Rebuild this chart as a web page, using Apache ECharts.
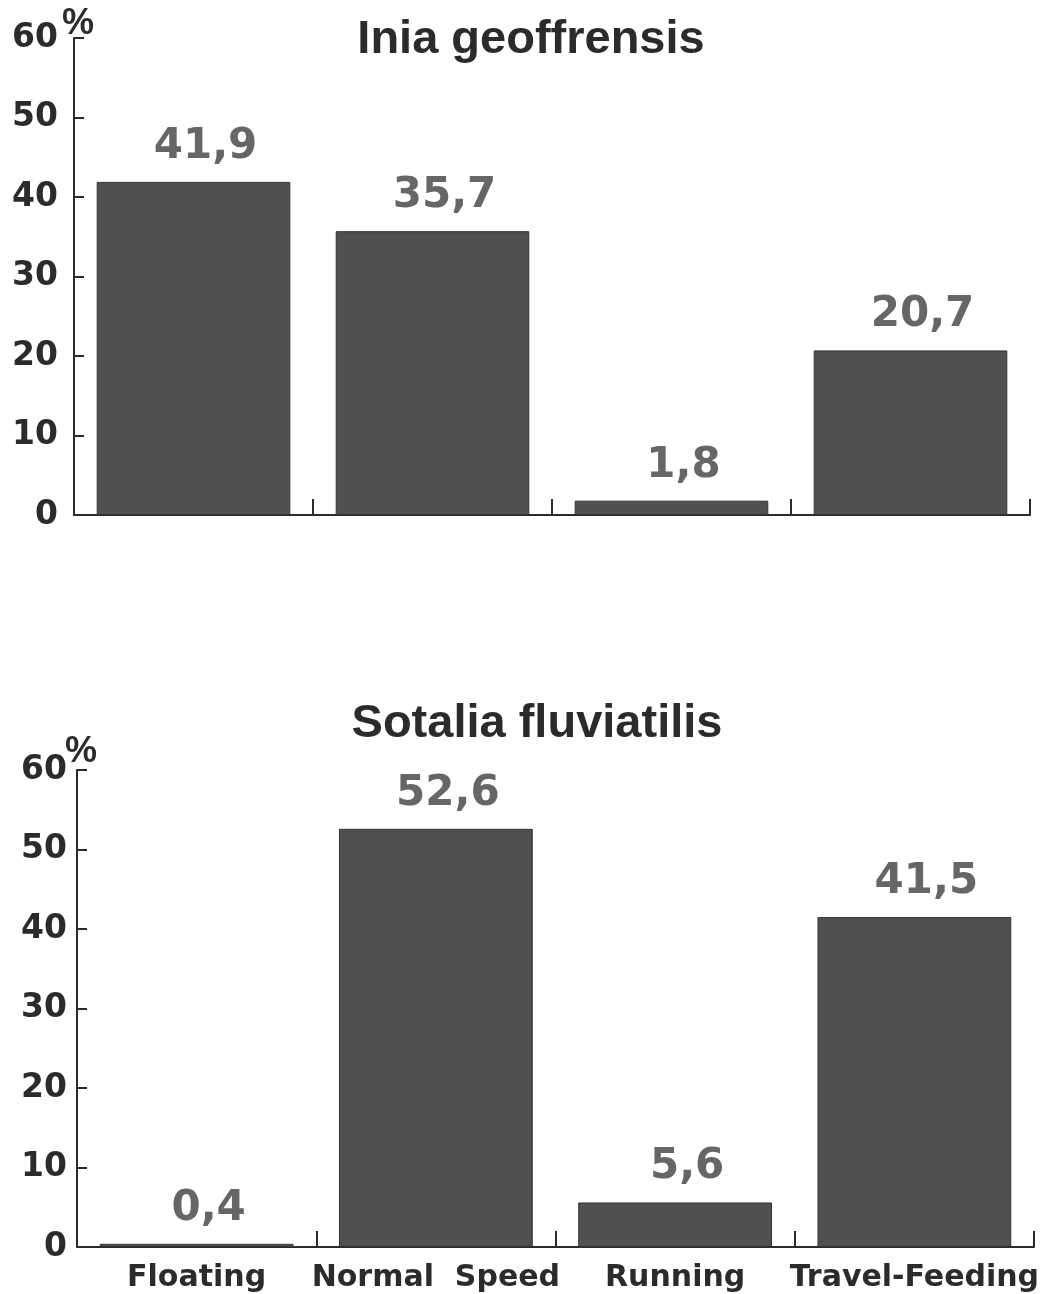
<!DOCTYPE html>
<html>
<head>
<meta charset="utf-8">
<script src="https://cdn.jsdelivr.net/npm/echarts@6/dist/echarts.min.js"></script>
<style>
  html, body { margin: 0; padding: 0; background: #fff; }
  #chart { width: 1046px; height: 1294px; }
</style>
</head>
<body>
<div id="chart"></div>
<script>
// Données
const categories = ['Floating', 'Normal  Speed', 'Running', 'Travel-Feeding'];
const iniaValues = [41.9, 35.7, 1.8, 20.7];
const sotaliaValues = [0.4, 52.6, 5.6, 41.5];
const titles = ['Inia geoffrensis', 'Sotalia fluviatilis'];
const yMin = 0;
const yMax = 60;
const yStep = 10;

const ink = '#2b2b2b';
const barFill = '#505050';
const numFont = 'DejaVu Sans';

// virgule décimale comme sur l'original
const comma = v => String(v).replace('.', ',');

function yAxis(gridIndex, nameGap, margin) {
  return {
    gridIndex: gridIndex,
    type: 'value',
    min: yMin,
    max: yMax,
    interval: yStep,
    name: '%',
    nameLocation: 'end',
    nameGap: nameGap,
    nameMoveOverlap: false,
    nameTextStyle: {
      color: ink, fontFamily: 'Liberation Sans', fontWeight: 'bold', fontSize: 36,
      align: 'center', padding: [0, 0, 0, 8]
    },
    axisLine: { show: true, lineStyle: { color: ink, width: 2 } },
    axisTick: { show: true, inside: true, length: 10, lineStyle: { color: ink, width: 2 } },
    splitLine: { show: false },
    axisLabel: {
      color: ink, fontFamily: numFont, fontWeight: 'bold', fontSize: 33, margin: margin
    }
  };
}

function xAxis(gridIndex, showLabels) {
  return {
    gridIndex: gridIndex,
    type: 'category',
    data: categories,
    axisLine: { show: true, lineStyle: { color: ink, width: 2 } },
    axisTick: { show: true, inside: true, length: 16, alignWithLabel: false, lineStyle: { color: ink, width: 2 } },
    axisLabel: {
      show: showLabels, color: ink, fontFamily: numFont, fontWeight: 'bold',
      fontSize: 30, margin: 16, interval: 0
    }
  };
}

function barSeries(index, values) {
  return {
    type: 'bar',
    xAxisIndex: index,
    yAxisIndex: index,
    data: values,
    barWidth: '81%',
    itemStyle: { color: barFill, borderColor: '#333', borderWidth: 1 },
    label: {
      show: true,
      position: 'top',
      distance: 14,
      offset: [12, 0],
      formatter: p => comma(p.value),
      color: '#666',
      fontFamily: numFont,
      fontWeight: 'bold',
      fontSize: 42
    }
  };
}

const chart = echarts.init(document.getElementById('chart'));
chart.setOption({
  backgroundColor: '#fff',
  animation: false,
  title: [
    {
      text: titles[0], left: 526, top: 12, textAlign: 'center',
      textStyle: { color: ink, fontFamily: 'Liberation Sans', fontWeight: 'bold', fontSize: 47 }
    },
    {
      text: titles[1], left: 532, top: 696, textAlign: 'center',
      textStyle: { color: ink, fontFamily: 'Liberation Sans', fontWeight: 'bold', fontSize: 47 }
    }
  ],
  grid: [
    { left: 74, top: 38, width: 956, height: 477, containLabel: false, outerBoundsMode: 'none' },
    { left: 77, top: 770, width: 957, height: 477, containLabel: false, outerBoundsMode: 'none' }
  ],
  xAxis: [xAxis(0, false), xAxis(1, true)],
  yAxis: [yAxis(0, -4, 16), yAxis(1, 0, 10)],
  series: [barSeries(0, iniaValues), barSeries(1, sotaliaValues)]
});
</script>
</body>
</html>
